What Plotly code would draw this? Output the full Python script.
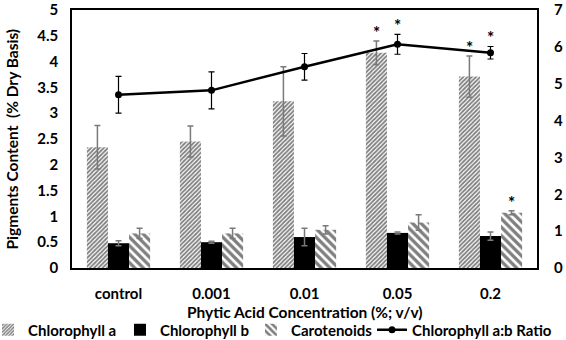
import plotly.graph_objects as go

categories = ["control", "0.001", "0.01", "0.05", "0.2"]
chl_a = [2.34, 2.45, 3.23, 4.17, 3.71]
chl_a_err = [0.42, 0.30, 0.67, 0.23, 0.40]
chl_b = [0.48, 0.50, 0.60, 0.68, 0.62]
chl_b_err = [0.05, 0.02, 0.17, 0.02, 0.08]
carot = [0.67, 0.67, 0.74, 0.88, 1.07]
carot_err = [0.10, 0.10, 0.08, 0.15, 0.04]
ratio = [4.70, 4.82, 5.46, 6.07, 5.84]
ratio_err = [0.50, 0.50, 0.36, 0.27, 0.17]

left_ticks = [0, 0.5, 1, 1.5, 2, 2.5, 3, 3.5, 4, 4.5, 5]
right_ticks = [0, 1, 2, 3, 4, 5, 6, 7]

FONT = "Lato"
bar_err = dict(type="data", visible=True, color="#7a7a7a", thickness=1.5, width=3)

fig = go.Figure()
fig.add_trace(go.Bar(
    x=categories, y=chl_a, name="Chlorophyll a", legend="legend",
    marker=dict(color="white", line=dict(width=0),
                pattern=dict(shape="/", fgcolor="black", bgcolor="white", size=3, solidity=0.6)),
    error_y=dict(array=chl_a_err, **bar_err)))
fig.add_trace(go.Bar(
    x=categories, y=chl_b, name="Chlorophyll b", legend="legend2",
    marker=dict(color="black", line=dict(width=0)),
    error_y=dict(array=chl_b_err, **bar_err)))
fig.add_trace(go.Bar(
    x=categories, y=carot, name="Carotenoids", legend="legend3",
    marker=dict(color="white", line=dict(width=0),
                pattern=dict(shape="\\", fgcolor="black", bgcolor="white", size=6, solidity=0.55)),
    error_y=dict(array=carot_err, **bar_err)))
fig.add_trace(go.Scatter(
    x=categories, y=ratio, name="Chlorophyll a:b Ratio", yaxis="y2", legend="legend4",
    mode="lines+markers", line=dict(color="black", width=2.5),
    marker=dict(color="black", size=7),
    error_y=dict(type="data", array=ratio_err, visible=True, color="black", thickness=1.2, width=3)))

# significance stars (category index, value, axis, pixel shift within group)
stars = [
    (3, chl_a[3] + chl_a_err[3], "y", -21),
    (4, chl_a[4] + chl_a_err[4], "y", -21),
    (4, carot[4] + carot_err[4], "y", 21),
    (3, ratio[3] + ratio_err[3], "y2", 0),
    (4, ratio[4] + ratio_err[4], "y2", 0),
]
annotations = []
for xc, yv, yr, xs in stars:
    annotations.append(dict(x=xc, y=yv, xref="x", yref=yr, text="<b>*</b>", showarrow=False,
                            xshift=xs, yanchor="bottom", yshift=-4,
                            font=dict(family=FONT, size=17, color="black")))
annotations.append(dict(x=0.5, y=-0.172, xref="paper", yref="paper", text="<b>Phytic Acid Concentration (%; v/v)</b>",
                        showarrow=False, xanchor="center", yanchor="middle",
                        font=dict(family=FONT, size=15.5, color="black")))
annotations.append(dict(x=-0.128, y=0.5, xref="paper", yref="paper", text="<b>Pigments Content  (% Dry Basis)</b>",
                        showarrow=False, textangle=-90, xanchor="center", yanchor="middle",
                        font=dict(family=FONT, size=15.5, color="black")))

legend_font = dict(family=FONT, size=15, color="black", weight="bold")


def leg(xp):
    return dict(orientation="h", xref="paper", yref="paper", x=xp, xanchor="left",
                y=-0.24, yanchor="middle", font=legend_font, itemwidth=30,
                bgcolor="rgba(0,0,0,0)")


fig.update_layout(
    width=566, height=340,
    margin=dict(l=72, r=29, t=10, b=72, autoexpand=False),
    paper_bgcolor="white", plot_bgcolor="white",
    barmode="group", bargap=0.32, bargroupgap=0,
    font=dict(family=FONT, size=14, color="black"),
    showlegend=True,
    legend=leg(-0.1806),
    legend2=leg(0.1032),
    legend3=leg(0.3849),
    legend4=leg(0.6452),
    xaxis=dict(type="category", showline=True, linecolor="black", linewidth=1.5, mirror=True, ticks="",
               tickfont=dict(family=FONT, size=15, color="black", weight="bold"), ticklabelstandoff=11),
    yaxis=dict(range=[0, 5], tickvals=left_ticks, showgrid=False, zeroline=False,
               showline=True, linecolor="black", linewidth=1.5, mirror=True, ticks="",
               tickfont=dict(family=FONT, size=15, color="black", weight="bold"), ticklabelstandoff=9),
    yaxis2=dict(range=[0, 7], tickvals=right_ticks, overlaying="y", side="right", showgrid=False,
                zeroline=False, showline=False, ticks="",
                tickfont=dict(family=FONT, size=15, color="black", weight="bold"), ticklabelstandoff=16),
    annotations=annotations,
)
fig.write_html("out.html", config={"displayModeBar": False},
               post_script="document.body.style.margin='0';")
